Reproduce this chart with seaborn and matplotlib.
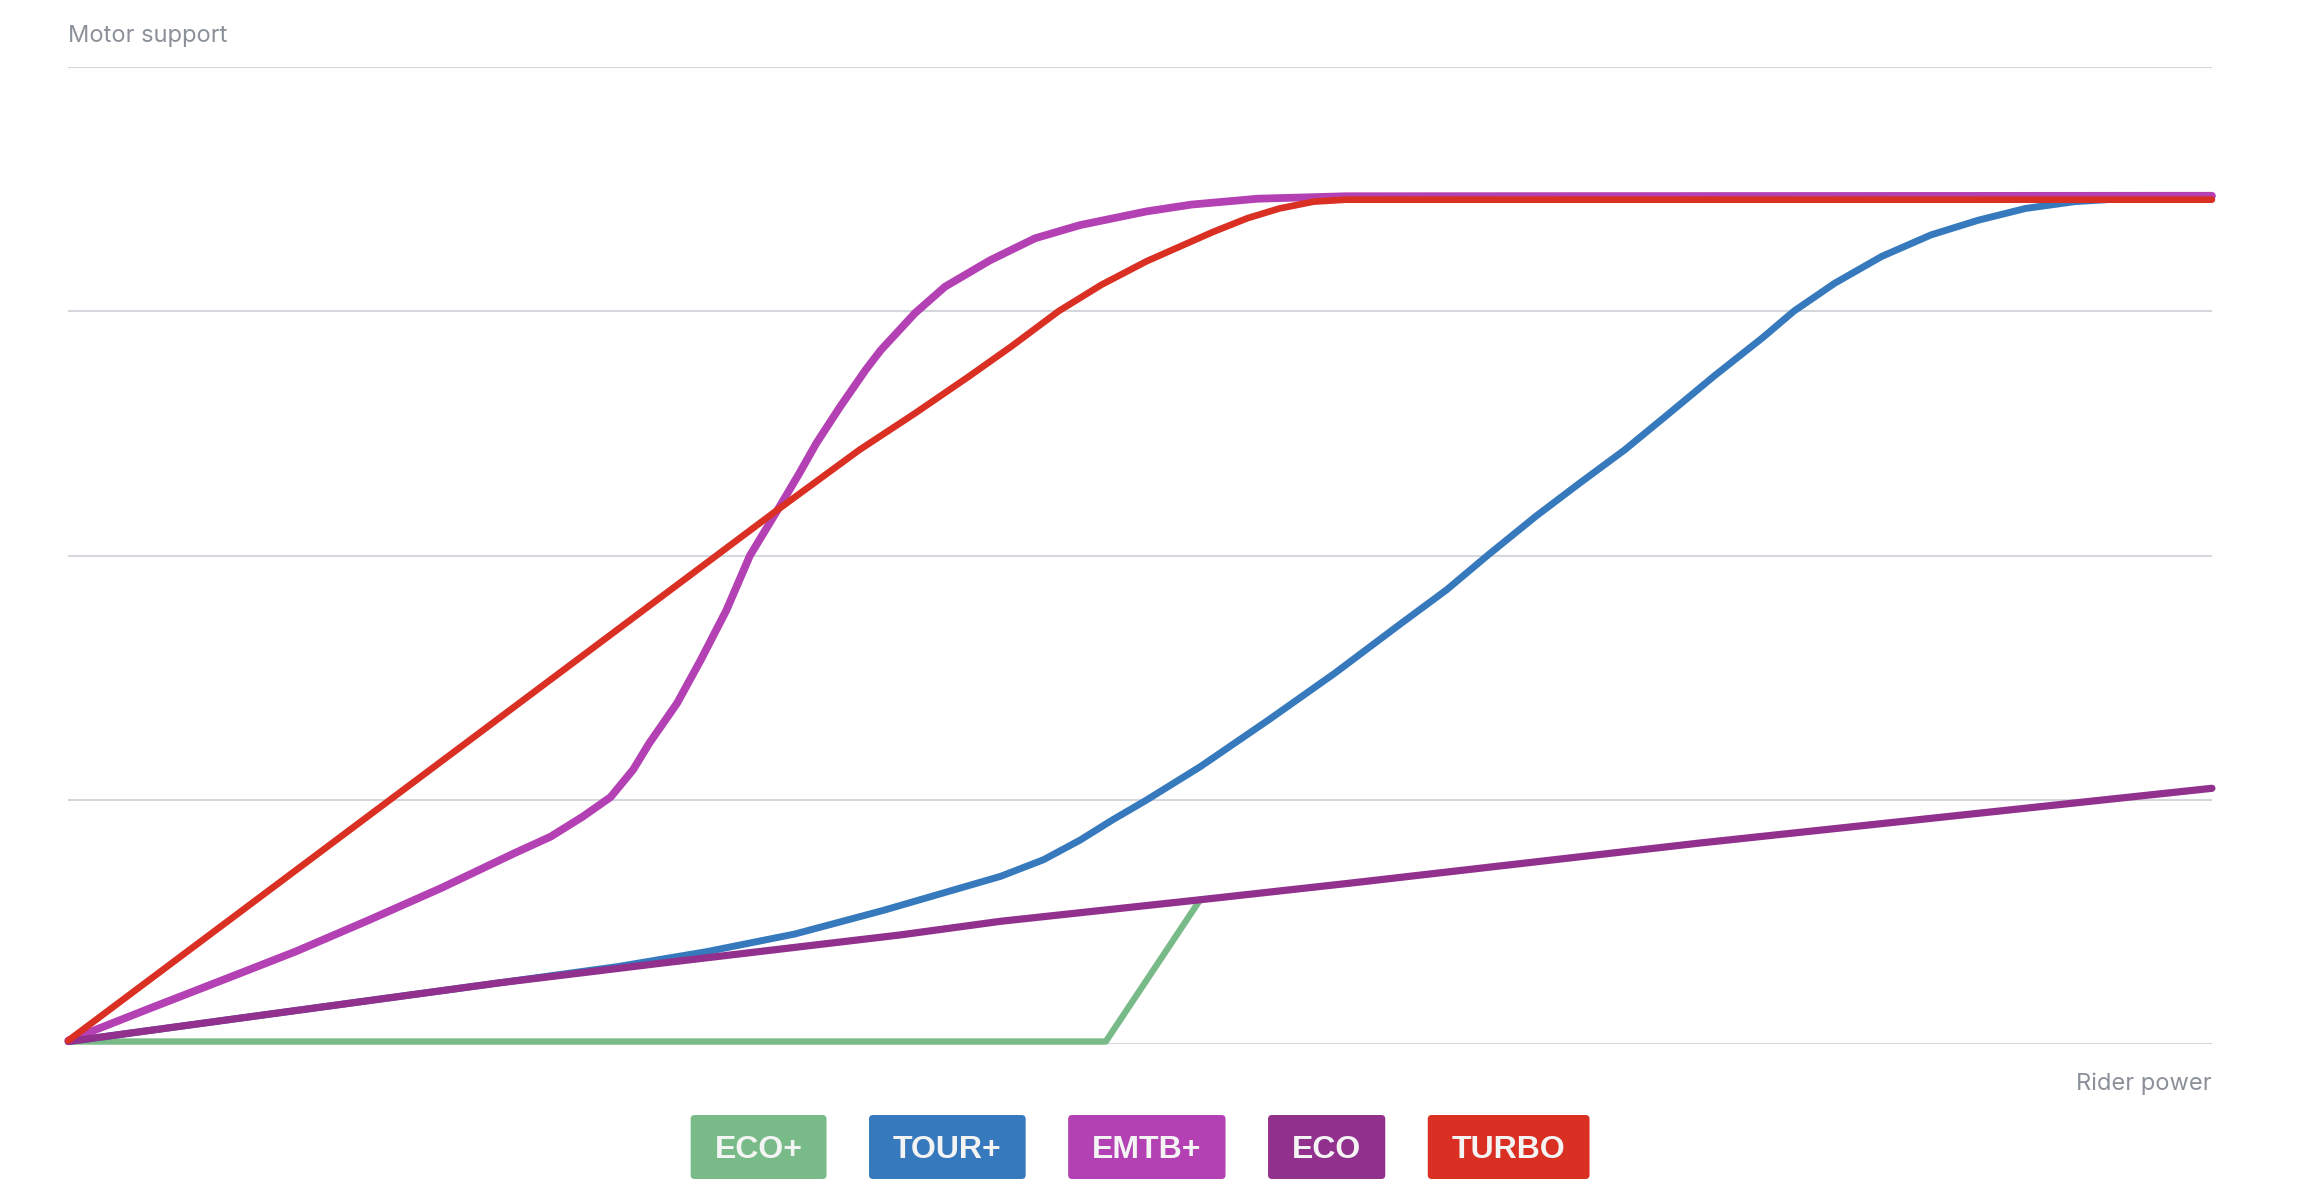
import matplotlib
matplotlib.use("Agg")
import matplotlib.pyplot as plt
from matplotlib.patches import FancyBboxPatch
from matplotlib.transforms import IdentityTransform
import seaborn as sns
import pandas as pd

# assist modes, in drawing order (later ones sit on top)
modes = ["ECO+", "TOUR+", "EMTB+", "ECO", "TURBO"]
colors = ["#79bb88", "#3679bc", "#b441b4", "#91308d", "#d93023"]
widths_pt = [4.6, 5.0, 5.6, 5.2, 4.8]

# rider power (0-100) vs motor support (0-100)
eco_plus_x = [0, 48.4, 52.8]
eco_plus_y = [0.3, 0.3, 14.8]

tour_plus_x = [0, 20.1, 25.65, 29.8, 33.9, 38.0, 43.5, 45.5, 47.2, 48.7, 50.3, 52.8,
               56.0, 59.1, 62.2, 64.3, 66.2, 68.45, 70.5, 72.6, 74.6, 76.8, 79.05,
               80.5, 82.4, 84.6, 86.9, 89.1, 91.3, 93.6, 95.8, 98.0, 100]
tour_plus_y = [0.3, 6.3, 7.97, 9.5, 11.3, 13.7, 17.2, 18.9, 20.9, 22.95, 25.0, 28.4,
               33.2, 38.0, 43.1, 46.5, 50.0, 54.0, 57.4, 60.8, 64.4, 68.4, 72.3,
               75.0, 77.85, 80.6, 82.8, 84.3, 85.5, 86.2, 86.5, 86.7, 86.7]

emtb_x = [0, 3.7, 7.1, 10.6, 14.0, 17.4, 20.85, 22.5, 24.0, 25.3, 26.35, 27.1, 28.4,
          29.5, 30.7, 31.8, 33.1, 34.1, 34.9, 36.0, 37.2, 37.9, 39.5, 40.9, 43.0,
          45.1, 47.2, 50.3, 52.4, 55.5, 59.6, 100]
emtb_y = [0.4, 3.6, 6.5, 9.5, 12.7, 16.0, 19.6, 21.25, 23.3, 25.3, 28.1, 30.8, 34.9,
          39.3, 44.4, 50.0, 54.7, 58.4, 61.5, 65.2, 69.0, 71.0, 74.8, 77.5, 80.2,
          82.45, 83.8, 85.2, 85.9, 86.5, 86.75, 86.8]

eco_x = [0, 20.1, 27.6, 38.8, 43.5, 52.8, 59.8, 76.1, 85.5, 100]
eco_y = [0.3, 6.3, 8.3, 11.2, 12.6, 14.8, 16.5, 20.6, 22.8, 26.2]

turbo_x = [0, 33.1, 36.9, 39.5, 42.0, 44.0, 46.2, 48.2, 50.3, 51.85, 53.4, 55.0,
           56.5, 58.1, 59.6, 100]
turbo_y = [0.4, 54.7, 60.8, 64.55, 68.3, 71.4, 75.0, 77.7, 80.1, 81.6, 83.1, 84.5,
           85.5, 86.2, 86.4, 86.4]

grid_levels = [0, 25, 50, 75, 100]

xs_all = [eco_plus_x, tour_plus_x, emtb_x, eco_x, turbo_x]
ys_all = [eco_plus_y, tour_plus_y, emtb_y, eco_y, turbo_y]
frames = []
for name, xs, ys in zip(modes, xs_all, ys_all):
    frames.append(pd.DataFrame({"rider": xs, "support": ys, "mode": name}))
df = pd.concat(frames, ignore_index=True)

sns.set_theme(style="white")
plt.rcParams["font.family"] = ["Inter", "DejaVu Sans"]

W, H = 2306, 1204
fig = plt.figure(figsize=(W / 100, H / 100), dpi=100)
ax = fig.add_axes([0.0296, 0.1325, 0.9296, 0.8121])

for name, c, lw in zip(modes, colors, widths_pt):
    sns.lineplot(data=df[df["mode"] == name], x="rider", y="support", color=c,
                 lw=lw, sort=False, estimator=None, ax=ax, legend=False,
                 clip_on=False, solid_joinstyle="round")

ax.set_xlim(0, 100)
ax.set_ylim(0, 100)
ax.set_yticks(grid_levels)
ax.set_xticks([])
ax.grid(axis="y", color="#d4d7dc", lw=1.5)
ax.set_axisbelow(True)
ax.tick_params(left=False, labelleft=False, bottom=False, labelbottom=False)
for s in ax.spines.values():
    s.set_visible(False)
ax.set_xlabel("")
ax.set_ylabel("")

grey = "#8b9099"
fig.text(0.0296, (H - 41.7) / H, "Motor support", fontsize=17, color=grey,
         ha="left", va="baseline")
fig.text(0.9592, (H - 1090) / H, "Rider power", fontsize=17, color=grey,
         ha="right", va="baseline")

# legend as coloured buttons below the plot
fig.canvas.draw()
renderer = fig.canvas.get_renderer()
pad_x, box_h, gap = 24, 64, 42.5
cy = H - 1147
fs = 23
cap = fs * 100 / 72 * 0.716
labels, box_w = [], []
for name in modes:
    t = fig.text(0, 0, name, fontsize=fs, fontweight="bold", color="#f4f4f4",
                 ha="center", va="baseline", family=["Liberation Sans", "DejaVu Sans"],
                 zorder=5)
    labels.append(t)
    box_w.append(t.get_window_extent(renderer).width + 2 * pad_x)
total = sum(box_w) + gap * (len(box_w) - 1)
bb = ax.get_window_extent(renderer)
left = (bb.x0 + bb.x1) / 2 - total / 2
for t, w, c in zip(labels, box_w, colors):
    fig.add_artist(FancyBboxPatch((left, cy - box_h / 2), w, box_h,
                                  boxstyle="round,pad=0,rounding_size=4",
                                  transform=IdentityTransform(), fc=c, ec="none",
                                  zorder=1))
    t.set_position(((left + w / 2) / W, (cy - cap / 2) / H))
    left += w + gap

fig.savefig("out.png", dpi=100)
